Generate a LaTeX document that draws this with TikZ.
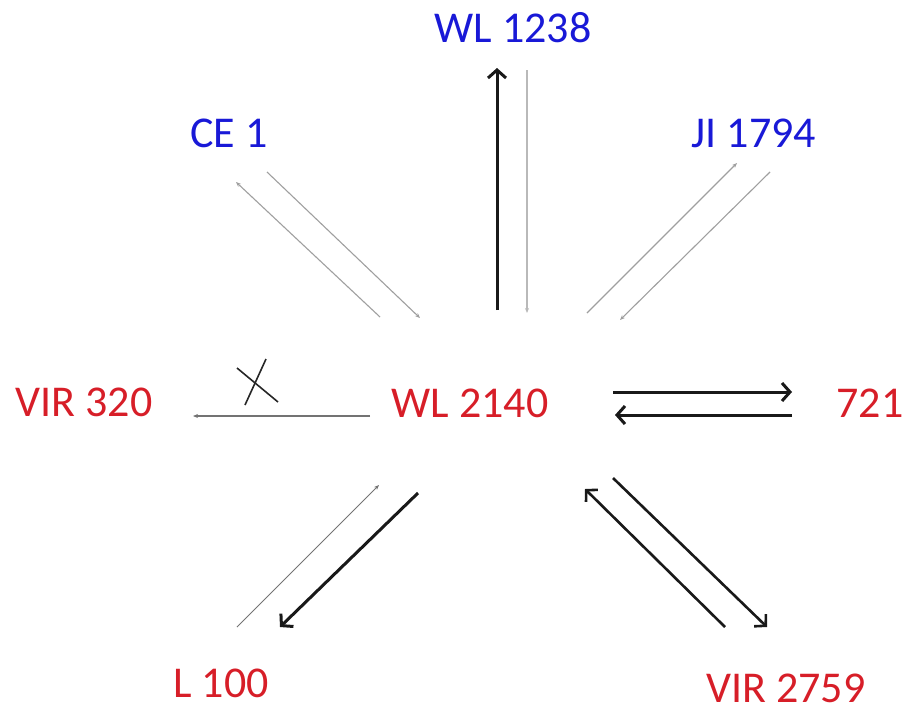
\documentclass[tikz,border=0pt]{standalone}
\usepackage{fontspec}
\setmainfont{Carlito}
\usetikzlibrary{arrows.meta}
\definecolor{nodeblue}{RGB}{25,25,215}
\definecolor{nodered}{RGB}{215,30,40}
\begin{document}
\begin{tikzpicture}[x=1pt,y=-1pt,
  lbl/.style={inner sep=0pt, font=\fontsize{44}{44}\selectfont},
  lblblue/.style={lbl,text=nodeblue},
  lblred/.style={lbl,text=nodered},
  thinarr/.style={draw=gray!75, line width=1.1pt, -{Stealth[length=5pt,width=4pt]}},
  thickarr/.style={draw=black!90, line width=3pt, -{Straight Barb[length=8pt,width=18pt]}},
  midarr/.style={draw=black!90, line width=2.6pt, -{Straight Barb[length=8pt,width=17pt]}},
]
\useasboundingbox (0,0) rectangle (907,713);

% labels
\node[lblblue] (wl1238) at (513,28) {WL 1238};
\node[lblblue] (ce1)    at (229,133) {CE 1};
\node[lblblue] (ji1794) at (754,133) {JI 1794};
\node[lblred]  (vir320) at (84,402) {VIR 320};
\node[lblred]  (wl2140) at (470,403) {WL 2140};
\node[lblred]  (n721)   at (870,403) {721};
\node[lblred]  (l100)   at (221,683) {L 100};
\node[lblred]  (vir2759) at (786,688) {VIR 2759};

% arrow end points
\coordinate (up1) at (497,310);  \coordinate (up2) at (497,68);
\coordinate (dn1) at (527,70);   \coordinate (dn2) at (527,313);
\coordinate (ce1a) at (380,317); \coordinate (ce1b) at (236,182);
\coordinate (ce2a) at (267,172); \coordinate (ce2b) at (420,318);
\coordinate (ji1a) at (587,313); \coordinate (ji1b) at (737,163);
\coordinate (ji2a) at (770,172); \coordinate (ji2b) at (620,320);
\coordinate (r1a) at (613,392);  \coordinate (r1b) at (792,392);
\coordinate (r2a) at (792,415);  \coordinate (r2b) at (615,415);
\coordinate (la) at (370,416);   \coordinate (lb) at (193,416);
\coordinate (x1a) at (237,368);  \coordinate (x1b) at (278,402);
\coordinate (x2a) at (266,359);  \coordinate (x2b) at (245,405);
\coordinate (l1a) at (237,627);  \coordinate (l1b) at (379,485);
\coordinate (l2a) at (418,493);  \coordinate (l2b) at (280,627);
\coordinate (v1a) at (725,627);  \coordinate (v1b) at (585,489);
\coordinate (v2a) at (613,478);  \coordinate (v2b) at (767,627);

% WL 1238
\draw[thickarr] (up1) -- (up2);
\draw[thinarr, draw=gray!55] (dn1) -- (dn2);
% CE 1
\draw[thinarr] (ce1a) -- (ce1b);
\draw[thinarr] (ce2a) -- (ce2b);
% JI 1794
\draw[thinarr] (ji1a) -- (ji1b);
\draw[thinarr] (ji2a) -- (ji2b);
% 721
\draw[thickarr] (r1a) -- (r1b);
\draw[thickarr] (r2a) -- (r2b);
% VIR 320, blocked
\draw[thinarr, draw=gray!90!black] (la) -- (lb);
\draw[line width=1.6pt, black!85] (x1a) -- (x1b);
\draw[line width=1.6pt, black!85] (x2a) -- (x2b);
% L 100
\draw[thinarr, draw=gray!90!black, line width=0.9pt] (l1a) -- (l1b);
\draw[thickarr] (l2a) -- (l2b);
% VIR 2759
\draw[midarr] (v1a) -- (v1b);
\draw[midarr] (v2a) -- (v2b);
\end{tikzpicture}
\end{document}
